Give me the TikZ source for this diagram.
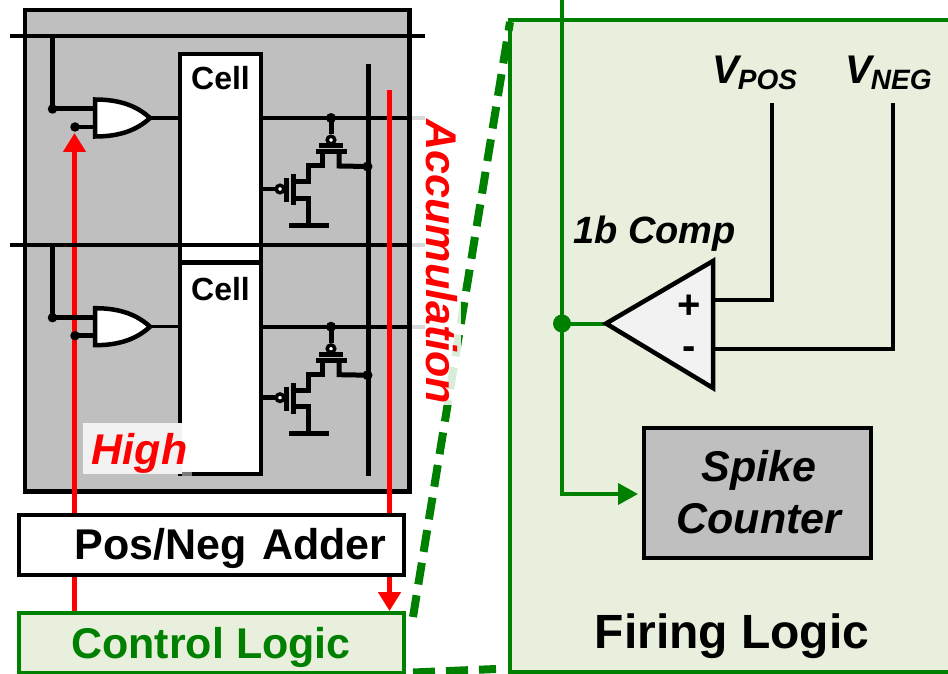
\documentclass[tikz,border=0pt]{standalone}
\usepackage{fontspec}
\setmainfont{Liberation Sans}
\usepackage{xcolor}
\usetikzlibrary{arrows.meta,positioning,calc}
\definecolor{ctrlgreen}{RGB}{0,128,0}
\definecolor{palegreen}{RGB}{233,239,221}
\definecolor{arraygray}{RGB}{191,191,191}
\definecolor{compgray}{RGB}{242,242,242}
\newcommand{\px}[1]{\fontsize{#1}{#1}\selectfont}

\begin{document}
\begin{tikzpicture}[
  x=1pt, y=-1pt,
  >={Triangle[length=19pt,width=22pt]},
  block/.style={draw, line width=4.5pt, inner sep=0pt, outer sep=0pt, anchor=north west},
  wire/.style={line width=4pt},
  gbus/.style={ctrlgreen, line width=4pt},
  rsig/.style={red, line width=5pt},
  gdash/.style={ctrlgreen, line width=8pt, dash pattern=on 22pt off 11pt},
  jdot/.style={circle, fill, inner sep=0pt, minimum size=#1},
  bubble/.style={circle, draw, fill=white, line width=3.5pt, inner sep=0pt, minimum size=7.5pt},
  lbl/.style={inner sep=0pt, font=\bfseries\px{43}},
  lbli/.style={inner sep=0pt, font=\bfseries\itshape\px{#1}}
]
  \useasboundingbox (0,0) rectangle (948,674);
  %% Firing logic panel, runs off the page on the right
  \fill[palegreen] (510,20) rectangle (948,672);
  \draw[ctrlgreen, line width=4pt] (948,20) -- (510,20) -- (510,672) -- (948,672);
  %% Zoom lines
  \coordinate (ztop) at (510,22);
  \coordinate (zbot) at (496,669);
  \draw[gdash] (413,617) -- (ztop);
  \draw[gdash] (413,672.5) -- (zbot);
  %% Array
  \node[block, fill=arraygray, minimum width=384.5pt, minimum height=481.5pt] (array) at (25,10) {};
  \draw[rsig, ->] (74.5,613) -- (74.5,133);
  \foreach \row/\dy/\ch/\ty in {one/0/208/78, two/208.7/211/80} {
    \begin{scope}[yshift=-\dy pt]
      \node[block, line width=4pt, fill=white, minimum width=81pt, minimum height=\ch pt] (cell\row) at (180,54) {};
      \node[inner sep=0pt, font=\bfseries\px{32}] (name\row) at (220.5,\ty) {Cell};
    \end{scope}
  }
  \foreach \row/\dy in {one/0, two/208.7} {
    \begin{scope}[yshift=-\dy pt]
      \draw[wire] (10,36) -- (425,36);
      \node[jdot=9.5pt] (dotw\row) at (52.5,109) {};
      \node[jdot=9.5pt] (dotr\row) at (75,127) {};
      \draw[wire, line width=5pt] (52.5,34) -- (dotw\row.center) -- (95,109);
      \draw[wire, line width=4.5pt] (dotr\row.center) -- (95,127);
      %% gate
      \draw[fill=white, line width=4.5pt, line join=miter] (95,99.5) .. controls (120,99.5) and (137,106) .. (150,118)
        .. controls (137,130) and (120,136.5) .. (95,136.5) -- cycle;
      \coordinate (gout\row) at (150,118);
      \draw[wire, line width=3.5pt] (gout\row) -- (180,118);
      \draw[wire] (261,118) -- (425,118);
      \node[jdot=10pt] (dotq\row) at (331,118) {};
      %% pull-up device
      \node[bubble] (bubq\row) at (331,140) {};
      \draw[wire, line width=5pt] (dotq\row.center) -- (bubq\row.north);
      \draw[line width=5pt] (319,145.5) -- (343,145.5);
      \draw[line width=5pt] (316,151.5) -- (347,151.5);
      \draw[wire, line width=5pt, line cap=rect] (322.5,151.5) -- (322.5,166) -- (308,166) -- (308,181.5) -- (293,181.5);
      \node[jdot=10pt] (dotb\row) at (367.5,166.5) {};
      \draw[wire, line width=5pt] (339,151.5) -- (339,166) -- (dotb\row.center);
      %% pull-down device
      \node[bubble] (bubc\row) at (280,189) {};
      \draw[wire, line width=4.5pt] (263,189) -- (bubc\row.west);
      \draw[line width=5pt] (286,178) -- (286,202);
      \draw[line width=5pt] (293,174) -- (293,205);
      \draw[wire, line width=5pt] (293,198) -- (308,198) -- (308,225);
      \draw[line width=5pt] (289,225) -- (329,225);
    \end{scope}
  }
  \draw[wire, line width=5pt] (368,64) -- (368,476);
  %% High tag sits on top of the array
  \fill[compgray] (83,423) rectangle (182,474);
  \fill[compgray, opacity=.5] (182,470) rectangle (192,475.5);
  %% Signals
  \draw[rsig, ->] (389.5,90) -- (389.5,611);
  \node[lbli=43, text=red] (high) at (139.5,453) {High};
  \node[fill=white, fill opacity=.85, inner sep=0pt, minimum width=49pt, minimum height=292pt] (accumbox) at (436.5,259) {};
  \node[lbli=43, text=red, rotate=-90] (accum) at (442,262) {Accumulation};
  %% Periphery
  \node[block, fill=white, minimum width=385pt, minimum height=60pt] (adder) at (19,515) {};
  \node[lbl] (addername) at (230.5,548) {Pos/Neg\hspace{4pt} Adder};
  \node[block, draw=ctrlgreen, fill=palegreen, minimum width=385pt, minimum height=60pt] (ctrl) at (19,613) {};
  \node[lbl, text=ctrlgreen] (ctrlname) at (211,647) {Control Logic};
  %% Comparator
  \node[jdot=18pt, ctrlgreen] (tap) at (562,323.5) {};
  \node[block, fill=arraygray, minimum width=227pt, minimum height=130pt] (spike) at (644,428) {};
  \node[lbli=43, align=center] (spikename) at (759,492) {Spike\\[9pt]Counter};
  \draw[gbus] (562,0) -- (tap.center);
  \draw[gbus] (tap.center) -- (562,494) -- (620,494);
  \draw[ctrlgreen, line width=4pt, -{Triangle[length=20pt,width=21pt]}] (562,494) -- (638,494);
  \draw[gbus] (tap.center) -- (606,323.5);
  \draw[fill=compgray, line width=4.5pt, line join=miter] (606,323.5) -- (713,261) -- (713,388) -- cycle;
  \coordinate (cmpp) at (713,300);
  \coordinate (cmpn) at (713,349);
  \node[inner sep=0pt, font=\bfseries\px{40}] (plus) at (689,307) {+};
  \node[inner sep=0pt, font=\bfseries\px{40}] (minus) at (689,353) {-};
  \node[lbli=38, anchor=base west] (compname) at (573,243) {1b Comp};
  \node[lbli=40, anchor=base west] (vpos) at (712,84) {V\kern-1pt\raisebox{-6pt}{\px{28}POS}};
  \node[lbli=40, anchor=base west] (vneg) at (845,84) {V\kern-1pt\raisebox{-6pt}{\px{28}NEG}};
  \draw[wire] (772,103) -- (772,300) -- (cmpp);
  \draw[wire] (893,103) -- (893,349) -- (cmpn);
  \node[inner sep=0pt, font=\bfseries\px{48}] (firing) at (732,636) {Firing Logic};
\end{tikzpicture}
\end{document}
